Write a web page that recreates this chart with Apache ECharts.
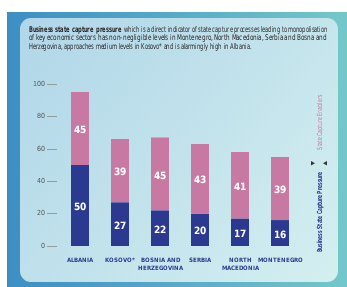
<!DOCTYPE html>
<html><head><meta charset="utf-8">
<script src="https://cdn.jsdelivr.net/npm/echarts@6/dist/echarts.min.js"></script>
<style>
@font-face{font-family:'CondX';font-weight:400;src:local('DejaVu Sans Condensed'),local('DejaVuSansCondensed'),local('Liberation Sans Narrow'),local('LiberationSansNarrow-Regular');}
@font-face{font-family:'CondX';font-weight:700;src:local('DejaVu Sans Condensed Bold'),local('DejaVuSansCondensed-Bold'),local('Liberation Sans Narrow Bold'),local('LiberationSansNarrow-Bold');}
html,body{margin:0;padding:0;background:#fff}#c{width:347px;height:287px}</style>
</head><body><div id="c"></div>
<script>
const categories = ['ALBANIA','KOSOVO*','BOSNIA AND\nHERZEGOVINA','SERBIA','NORTH\nMACEDONIA','MONTENEGRO'];
const pressure = [50,27,22,20,17,16];
const enablers = [45,39,45,43,41,39];
const yTicks = [0,20,40,60,80,100];
const headerBold = 'Business state capture pressure';
const headerLines = [
  'which is a direct indicator of state capture processes leading to monopolisation',
  'of key economic sectors has non-negligible levels in Montenegro, North Macedonia, Serbia and Bosna and',
  'Herzegovina, approaches medium levels in Kosovo* and is alarmingly high in Albania.'
];
const NAVY = '#2b3990', PINK = '#c879a3';

function draw(F){
  const cv = document.createElement('canvas').getContext('2d');
  const w = (t, f) => { cv.font = f; return cv.measureText(t).width; };
  const hf = '7.5px ' + F, hb = 'bold 7.5px ' + F;
  const l1 = w(headerBold + ' ', hb) + w(headerLines[0], hf);
  const s1 = 298 / l1, s2 = 298 / w(headerLines[1], hf), s3 = Math.min(s2, 222 / w(headerLines[2], hf));
  const sE = 55 / w('State Capture Enablers', '7px ' + F);
  const sP = 80 / w('Business State Capture Pressure', 'bold 7px ' + F);
  const condensed = w('ALBANIA', 'bold 7px ' + F) < 30;
  const xFont = condensed ? 7 : 6;
  const chart = echarts.init(document.getElementById('c'), null, {renderer:'canvas'});
  const lbl = {show:true,position:'inside',offset:[0,2],color:'#fff',fontFamily:F,fontSize:condensed?11:10,fontWeight:'bold'};
  chart.setOption({
    animation:false,
    graphic:[
      {type:'rect', z:-10, shape:{x:7,y:12,width:340,height:275},
       style:{fill:new echarts.graphic.LinearGradient(0,0,1,0,[{offset:0,color:'#3d8ec3'},{offset:1,color:'#72c8c9'}])}},
      {type:'rect', z:-9, shape:{x:20,y:18,width:318,height:264,r:11},
       style:{fill:new echarts.graphic.LinearGradient(0,0,1,1,[{offset:0,color:'#b0d6e8'},{offset:1,color:'#d4eff0'}])}},
      {type:'text', x:29, y:24, scaleX:s1, style:{rich:{b:{fontWeight:'bold',fontFamily:F,fontSize:7.5,fill:'#231f20'},n:{fontFamily:F,fontSize:7.5,fill:'#231f20'}},
        text:'{b|'+headerBold+'} {n|'+headerLines[0]+'}'}},
      {type:'text', x:29, y:34, scaleX:s2, style:{text:headerLines[1],font:hf,fill:'#231f20'}},
      {type:'text', x:29, y:43, scaleX:s3, style:{text:headerLines[2],font:hf,fill:'#231f20'}},
      {type:'text', x:320, y:122, rotation:Math.PI/2, scaleX:sE, style:{text:'State Capture Enablers',font:'7px '+F,fill:PINK,align:'center',verticalAlign:'middle'}},
      {type:'text', x:320, y:212, rotation:Math.PI/2, scaleX:sP, style:{text:'Business State Capture Pressure',font:'bold 7px '+F,fill:NAVY,align:'center',verticalAlign:'middle'}},
      {type:'polygon', shape:{points:[[311,161],[311,165.5],[315,163.2]]}, style:{fill:'#333'}},
      {type:'polygon', shape:{points:[[327,161],[327,165.5],[323,163.2]]}, style:{fill:'#333'}}
    ],
    grid:{left:60,right:47,top:84,bottom:41},
    xAxis:{type:'category',data:categories,axisLine:{show:false},axisTick:{show:false},
      axisLabel:{interval:0,margin:10,color:NAVY,fontFamily:F,fontWeight:'bold',fontSize:xFont,lineHeight:8}},
    yAxis:{type:'value',min:0,max:100,interval:20,offset:3,splitLine:{show:false},
      axisLine:{show:false},axisTick:{show:true,length:10,lineStyle:{color:'#8a8a8a',width:0.8}},
      axisLabel:{margin:12,color:'#555',fontFamily:F,fontSize:7,
        formatter:v=>yTicks.includes(v)?String(v):''}},
    series:[
      {name:'Business State Capture Pressure',type:'bar',stack:'s',data:pressure,barWidth:18,
       itemStyle:{color:NAVY},label:lbl},
      {name:'State Capture Enablers',type:'bar',stack:'s',data:enablers,barWidth:18,
       itemStyle:{color:PINK},label:lbl}
    ]
  });
}
const FF = 'CondX, "DejaVu Sans", sans-serif';
Promise.all([document.fonts.load('10px CondX'), document.fonts.load('bold 10px CondX')])
  .then(r => draw(r[0].length ? FF : 'sans-serif'))
  .catch(() => draw('sans-serif'));
</script></body></html>
